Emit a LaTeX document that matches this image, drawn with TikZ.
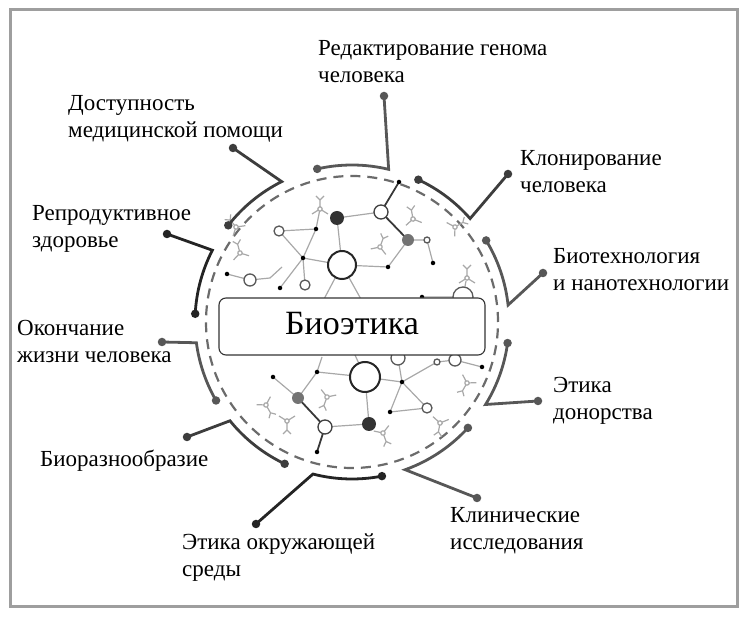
\documentclass[tikz,border=0pt]{standalone}
\usepackage{fontspec}
\setmainfont{Liberation Serif}
\usetikzlibrary{calc}
\definecolor{framec}{gray}{0.62}
\definecolor{dashc}{gray}{0.42}
\definecolor{cA}{gray}{0.14}
\definecolor{cB}{gray}{0.24}
\definecolor{cC}{gray}{0.34}
\definecolor{molL}{gray}{0.66}
\definecolor{molD}{gray}{0.22}
\begin{document}
\begin{tikzpicture}[x=1pt,y=1pt,
  lbl/.style={anchor=base west,align=left,inner sep=0pt,font=\fontsize{23}{27}\selectfont,text=black},
  brk/.style={draw=#1,line width=2.8pt},
  dotc/.style={circle,fill=#1,inner sep=0pt,minimum size=8.5pt},
  moll/.style={draw=molL,line width=1.2pt},
  mold/.style={draw=molD,line width=1.8pt},
  bdot/.style={circle,fill=black,inner sep=0pt,minimum size=4.5pt},
  ocir/.style={circle,draw=gray!70!black,line width=1.3pt,fill=white,inner sep=0pt,minimum size=#1},
  bcir/.style={circle,draw=black!85,line width=2pt,fill=white,inner sep=0pt,minimum size=#1},
  fcir/.style={circle,fill=#1,inner sep=0pt,minimum size=14pt},
  twig/.pic={\draw[moll] (0,0) -- (0,9) (0,0) -- (-8,-5) (0,0) -- (8,-5) (0,9) -- (-4,13) (0,9) -- (4,13);
             \draw[moll,fill=white] (0,0) circle (2.2);}
]
\useasboundingbox (0,0) rectangle (748,619);
\draw[framec,line width=3pt] (10.5,12) rectangle (737,609);

\coordinate (C) at (352,297);
\draw[dashc,line width=2.2pt,dash pattern=on 10pt off 7pt] (C) circle (146);

% ---------- molecule, upper half
\coordinate (BC1) at (342,354);
\coordinate (DF1) at (337,401);
\coordinate (OC1) at (381,407);
\coordinate (MF1) at (408,379);
\coordinate (b1) at (399,437);
\coordinate (s1) at (427,379);
\coordinate (b2) at (433,356);
\coordinate (b3) at (388,352);
\coordinate (b4) at (303,361);
\coordinate (b5) at (316,390);
\coordinate (o2) at (279,388);
\coordinate (b6) at (280,331);
\coordinate (o3) at (305,334);
\coordinate (o4) at (250,339);
\coordinate (b7) at (227,345);
\coordinate (j1) at (270,341);
\coordinate (pc1) at (463,322);
\coordinate (b8) at (422,322);
\coordinate (h1) at (323,318);
\coordinate (h2) at (362,318);
\draw[moll] (DF1) -- (BC1) (DF1) -- (OC1) (BC1) -- (b3) -- (MF1) -- (s1) -- (b2)
  (BC1) -- (b4) -- (b6) (b4) -- (b5) -- (o2) -- (b4) (b5) -- (320,410)
  (BC1) -- (h1) (BC1) -- (h2) (o4) -- (b7) (o4) -- (j1) -- (282,352) (o3) -- (b4)
  (b8) -- (pc1) (pc1) -- (466,338);
\draw[mold] (OC1) -- (b1) (OC1) -- (MF1);
\pic at (320,410) {twig};
\pic[rotate=15] at (240,366) {twig};
\pic[rotate=-20] at (380,372) {twig};
\pic[rotate=10] at (413,400) {twig};
\pic at (467,341) {twig};
\pic[rotate=40] at (236,392) {twig};
\pic[rotate=-60] at (455,392) {twig};

% ---------- molecule, lower half
\coordinate (BC2) at (365,242);
\coordinate (b9) at (317,247);
\coordinate (b10) at (402,237);
\coordinate (MF2) at (298,221);
\coordinate (OC2) at (325,192);
\coordinate (DF2) at (369,195);
\coordinate (b11) at (317,167);
\coordinate (b12) at (273,242);
\coordinate (b13) at (390,207);
\coordinate (o5) at (427,211);
\coordinate (o6) at (455,259);
\coordinate (s2) at (437,257);
\coordinate (b14) at (482,252);
\coordinate (pc2) at (398,261);
\coordinate (h3) at (355,264);
\draw[moll] (BC2) -- (b9) (BC2) -- (b10) (BC2) -- (DF2) (OC2) -- (DF2)
  (b9) -- (MF2) (b12) -- (MF2) (b10) -- (b13) -- (o5) -- (b10) (b10) -- (s2) -- (o6) -- (b14)
  (BC2) -- (h3) (b9) -- (322,262) (b10) -- (pc2);
\draw[mold] (MF2) -- (OC2) -- (b11);
\pic[rotate=180] at (287,198) {twig};
\pic[rotate=160] at (327,222) {twig};
\pic[rotate=200] at (383,186) {twig};
\pic[rotate=150] at (467,236) {twig};
\pic[rotate=170] at (440,196) {twig};
\pic[rotate=210] at (266,214) {twig};

% molecule circles
\node[bcir=28pt] (nBC1) at (BC1) {};
\node[fcir=black!80] (nDF1) at (DF1) {};
\node[ocir=14pt,draw=black!75] (nOC1) at (OC1) {};
\node[fcir=black!55,minimum size=12pt] (nMF1) at (MF1) {};
\node[ocir=6pt] (ns1) at (s1) {};
\node[ocir=10pt] (no2) at (o2) {};
\node[ocir=10pt] (no3) at (o3) {};
\node[ocir=12pt] (no4) at (o4) {};
\node[ocir=20pt] (npc1) at (pc1) {};
\node[bcir=30pt] (nBC2) at (BC2) {};
\node[fcir=black!55,minimum size=12pt] (nMF2) at (MF2) {};
\node[ocir=14pt,draw=black!75] (nOC2) at (OC2) {};
\node[fcir=black!80] (nDF2) at (DF2) {};
\node[ocir=10pt] (no5) at (o5) {};
\node[ocir=12pt] (no6) at (o6) {};
\node[ocir=6pt] (ns2) at (s2) {};
\node[ocir=14pt] (npc2) at (pc2) {};
\foreach \p in {b1,b2,b3,b4,b5,b6,b7,b8,b9,b10,b11,b12,b13,b14}
  \node[bdot] (n\p) at (\p) {};

% ---------- central box
\node[draw=black!80,line width=1.1pt,fill=white,rounded corners=7pt,
      minimum width=266pt,minimum height=57pt,inner sep=0pt,text depth=6pt,
      font=\fontsize{34}{40}\selectfont] (bio) at (352,292.5) {Биоэтика};

% ---------- brackets
\newcommand\brkt[6]{% name, corner angle, end angle, tip x, tip y, colour
  \path (C) ++(#2:157) coordinate (k#1) (C) ++(#3:157) coordinate (e#1);
  \coordinate (t#1) at (#4,#5);
  \draw[brk=#6] (t#1) -- (k#1) arc[start angle=#2,end angle=#3,radius=157];
  \node[dotc=#6] (dt#1) at (t#1) {};
  \node[dotc=#6] (de#1) at (e#1) {};}
\brkt{1}{76.5}{102.8}{384}{523}{cC}
\brkt{2}{116.6}{142}{233}{471}{cB}
\brkt{3}{152.8}{177}{167}{385}{cA}
\brkt{4}{187.6}{210}{162}{277}{cC}
\brkt{5}{219}{244.6}{187}{182}{cB}
\brkt{6}{255.6}{281}{256}{95}{cA}
\brkt{7}{289.8}{317.6}{477}{121}{cC}
\brkt{8}{328.3}{352.3}{538}{218}{cC}
\brkt{9}{6.2}{31.3}{543}{346}{cC}
\brkt{10}{41.2}{65}{508}{445}{cB}

% ---------- labels (anchor = baseline of the last line)
\node[lbl] (L1) at (318,536) {Редактирование генома\\человека};
\node[lbl] (L2) at (68,481) {Доступность\\медицинской помощи};
\node[lbl] (L3) at (520,426) {Клонирование\\человека};
\node[lbl] (L4) at (32,371) {Репродуктивное\\здоровье};
\node[lbl] (L5) at (553,328) {Биотехнология\\и нанотехнологии};
\node[lbl] (L6) at (17,256) {Окончание\\жизни человека};
\node[lbl] (L7) at (553,199) {Этика\\донорства};
\node[lbl] (L8) at (40,152) {Биоразнообразие};
\node[lbl] (L9) at (450,69) {Клинические\\исследования};
\node[lbl] (L10) at (182,42) {Этика окружающей\\среды};
\end{tikzpicture}
\end{document}
